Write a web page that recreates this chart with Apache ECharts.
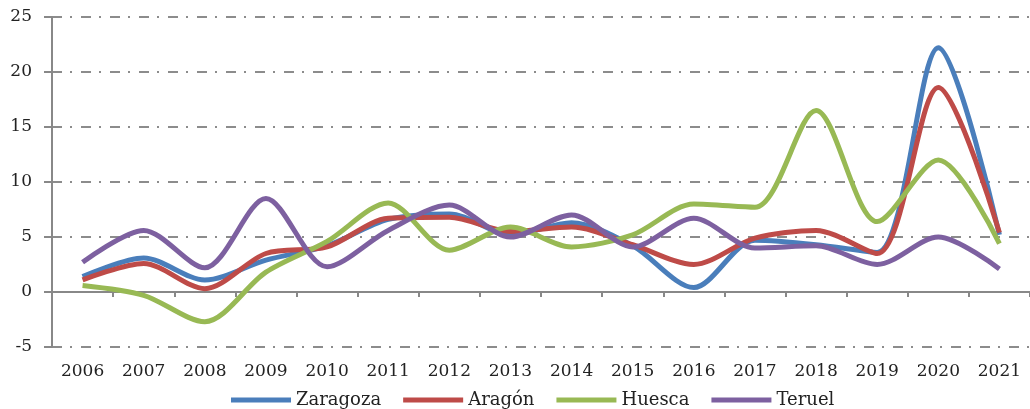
<!DOCTYPE html>
<html>
<head>
<meta charset="utf-8">
<script src="https://cdn.jsdelivr.net/npm/echarts@6/dist/echarts.min.js"></script>
<style>
  html, body { margin: 0; padding: 0; background: #fff; }
  #chart { width: 1030px; height: 409px; }
</style>
</head>
<body>
<div id="chart"></div>
<script>
// categorias (años)
var years = ['2006','2007','2008','2009','2010','2011','2012','2013','2014','2015','2016','2017','2018','2019','2020','2021'];
// valores
var zaragoza = [1.4, 3.1, 1.1, 2.9, 4.2, 6.6, 7.1, 5.2, 6.3, 4.2, 0.4, 4.7, 4.3, 3.6, 22.2, 5.2];
var aragon   = [1.1, 2.6, 0.3, 3.5, 4.1, 6.7, 6.8, 5.5, 5.9, 4.3, 2.5, 4.9, 5.6, 3.5, 18.6, 5.4];
var huesca   = [0.6, -0.3, -2.7, 1.8, 4.6, 8.1, 3.8, 5.9, 4.1, 5.2, 8.0, 7.7, 16.5, 6.4, 12.0, 4.4];
var teruel   = [2.7, 5.6, 2.2, 8.5, 2.3, 5.6, 7.9, 5.0, 7.0, 4.1, 6.7, 4.0, 4.2, 2.5, 5.0, 2.1];

var names = ['Zaragoza', 'Aragón', 'Huesca', 'Teruel'];
var colors = ['#4a7ebb', '#be4b48', '#98b954', '#7d60a0'];
var yTicks = [-5, 25, 5]; // min, max, intervalo

var font = 'DejaVu Serif';
var chart = echarts.init(document.getElementById('chart'));

function serie(name, data, i) {
  return {
    name: name,
    type: 'line',
    data: data,
    smooth: 0.3,
    symbol: 'none',
    lineStyle: { width: 5, color: colors[i] },
    itemStyle: { color: colors[i] }
  };
}

var option = {
  animation: false,
  grid: { left: 52, right: 0, top: 17, bottom: 62 },
  legend: {
    top: 386,
    left: 226,
    icon: 'rect',
    itemWidth: 60,
    itemHeight: 5,
    itemGap: 22,
    textStyle: { fontFamily: font, fontSize: 18, color: '#222' },
    data: names
  },
  xAxis: {
    type: 'category',
    data: years,
    boundaryGap: true,
    axisLine: { onZero: true, lineStyle: { color: '#888', width: 2 } },
    axisTick: { show: true, inside: false, length: 5, lineStyle: { color: '#888', width: 2 } },
    axisLabel: { margin: 16, fontFamily: font, fontSize: 17, color: '#222' },
    splitLine: { show: false }
  },
  yAxis: {
    type: 'value',
    min: yTicks[0],
    max: yTicks[1],
    interval: yTicks[2],
    axisLine: { show: true, lineStyle: { color: '#888', width: 2 } },
    axisTick: { show: true, length: 8, lineStyle: { color: '#888', width: 2 } },
    axisLabel: { margin: 20, fontFamily: font, fontSize: 17, color: '#222' },
    splitLine: {
      show: true,
      lineStyle: { color: '#8c8c8c', width: 2, type: [10, 8, 2, 9] }
    }
  },
  series: [
    serie(names[0], zaragoza, 0),
    serie(names[1], aragon, 1),
    serie(names[2], huesca, 2),
    serie(names[3], teruel, 3)
  ]
};

chart.setOption(option);
</script>
</body>
</html>
